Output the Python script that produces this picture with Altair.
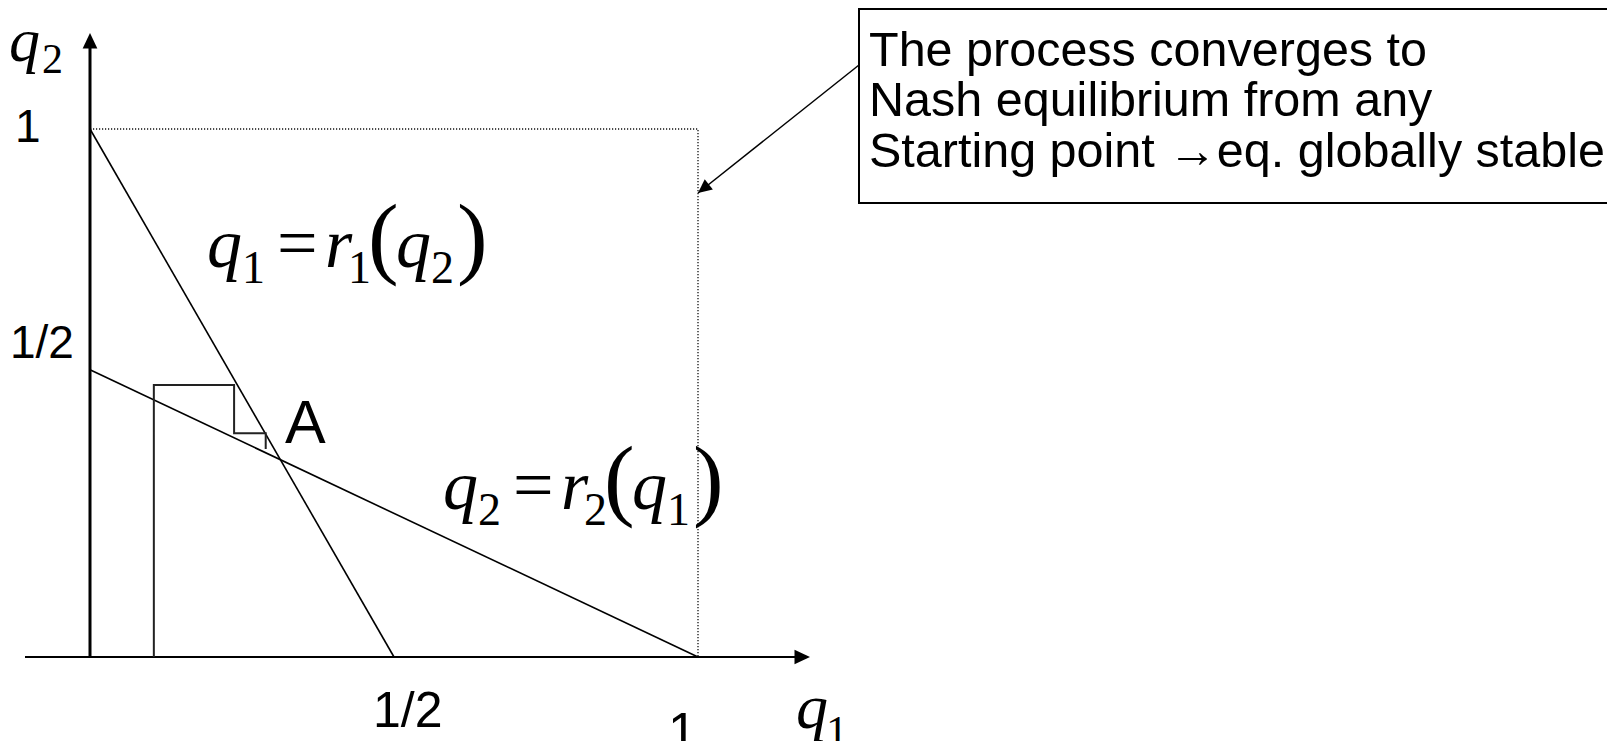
import altair as alt
import pandas as pd

# ---------------- data (economic units) ----------------
r1_q1 = [0.0, 0.5]            # q1 = r1(q2)
r1_q2 = [1.0, 0.0]
r2_q1 = [0.0, 1.0]            # q2 = r2(q1)
r2_q2 = [0.544, 0.0]
box_q1 = [0.0, 1.0, 1.0]      # dotted unit box
box_q2 = [1.0, 1.0, 0.0]
step_q1 = [0.105, 0.105, 0.237, 0.237, 0.289, 0.289]   # adjustment path
step_q2 = [0.0, 0.515, 0.515, 0.424, 0.424, 0.394]

box_lines = ["The process converges to",
             "Nash equilibrium from any",
             "Starting point \u2192eq. globally stable"]
tick_labels = ["1", "1/2", "1/2", "1"]

# ---------------- page calibration ----------------
W, H = 1599, 733
PX_X0, PX_X1 = 90, 698
PX_Y0, PX_Y1 = 657, 129


def qx(px):
    return (px - PX_X0) / (PX_X1 - PX_X0)


def qy(py):
    return (PX_Y0 - py) / (PX_Y0 - PX_Y1)


XD = [qx(8), qx(8 + W)]
YD = [qy(8 + H), qy(8)]
XS = alt.Scale(domain=XD, nice=False, zero=False)
YS = alt.Scale(domain=YD, nice=False, zero=False)


def X(f="x"):
    return alt.X(f"{f}:Q", scale=XS, axis=None)


def Y(f="y"):
    return alt.Y(f"{f}:Q", scale=YS, axis=None)


def rules(segs, **kw):
    df = pd.DataFrame(segs, columns=["x", "y", "x2", "y2"])
    return alt.Chart(df).mark_rule(**kw).encode(
        x=X(), y=Y(), x2="x2:Q", y2="y2:Q")


def path(xs, ys, **kw):
    df = pd.DataFrame({"x": xs, "y": ys, "o": range(len(xs))})
    return alt.Chart(df).mark_line(**kw).encode(x=X(), y=Y(), order="o:O")


layers = []

# text box
box_df = pd.DataFrame({"x": [qx(859)], "x2": [qx(1660)], "y": [qy(9)], "y2": [qy(203)]})
layers.append(alt.Chart(box_df).mark_rect(fill="white", stroke="black", strokeWidth=2).encode(
    x=X(), x2="x2:Q", y=Y(), y2="y2:Q"))

# dotted box
layers.append(path(box_q1, box_q2, color="#111", strokeWidth=1.3, strokeDash=[1.2, 1.8]))

# axes
layers.append(rules([[qx(25), 0.0, qx(800), 0.0]], color="black", strokeWidth=2.2))
layers.append(rules([[0.0, 0.0, 0.0, qy(45)]], color="black", strokeWidth=3))

# reaction functions
layers.append(path(r1_q1, r1_q2, color="black", strokeWidth=1.6))
layers.append(path(r2_q1, r2_q2, color="black", strokeWidth=1.6))

# adjustment steps
layers.append(path(step_q1, step_q2, color="#222", strokeWidth=2))

# annotation arrow line
layers.append(rules([[qx(859), qy(65), 1.0, qy(193)]], color="black", strokeWidth=1.5))

# arrowheads (tip at origin of custom shape)
heads = pd.DataFrame({
    "x": [0.0, qx(810), 1.0],
    "y": [qy(33), 0.0, qy(193)],
    "a": [0, 90, 231.5],
    "s": [240, 240, 190],
})
layers.append(alt.Chart(heads).mark_point(
    shape="M0,0 L-0.95,2 L0.95,2 Z", filled=True, color="black", opacity=1, strokeWidth=0
).encode(x=X(), y=Y(), angle=alt.Angle("a:Q", scale=None), size=alt.Size("s:Q", scale=None)))

# Arial-like labels
lab = pd.DataFrame({
    "t": tick_labels + ["A"],
    "x": [qx(15), qx(10), qx(373), qx(668), qx(285)],
    "y": [qy(142), qy(358), qy(727), qy(749), qy(443)],
    "s": [46, 46, 50, 52, 61],
})
layers.append(alt.Chart(lab).mark_text(
    font="Liberation Sans", align="left", baseline="alphabetic", color="black"
).encode(x=X(), y=Y(), text="t:N", size=alt.Size("s:Q", scale=None)))

# box text
bt = pd.DataFrame({"t": box_lines, "x": [qx(869)] * 3, "y": [qy(66), qy(116), qy(167)]})
layers.append(alt.Chart(bt).mark_text(
    font="Liberation Sans", fontSize=48.5, align="left", baseline="alphabetic", color="black"
).encode(x=X(), y=Y(), text="t:N"))

# math text pieces: (text, italic?, size, dx, dy)
eq_pieces = [
    ("q", True, 70, 0, 0), ("{a}", False, 46, 35, 16), ("=", False, 72, 70, 0),
    ("r", True, 70, 118, 0), ("{a}", False, 46, 141, 16), ("(", False, 92, 161, 0),
    ("q", True, 70, 189, 0), ("{b}", False, 46, 224, 16), (")", False, 92, 250, 0),
]
math_rows = []
for ox, oy, a, b in [(207, 267, "1", "2"), (443, 509, "2", "1")]:
    for t, it, s, dx, dy in eq_pieces:
        math_rows.append({"t": t.format(a=a, b=b), "it": it, "s": s,
                          "x": qx(ox + dx), "y": qy(oy + dy)})
# axis titles q2 and q1
math_rows += [
    {"t": "q", "it": True, "s": 62, "x": qx(9), "y": qy(61)},
    {"t": "2", "it": False, "s": 42, "x": qx(42), "y": qy(73)},
    {"t": "q", "it": True, "s": 64, "x": qx(796), "y": qy(728)},
    {"t": "1", "it": False, "s": 44, "x": qx(826), "y": qy(746)},
]
mdf = pd.DataFrame(math_rows)
for italic in (True, False):
    sub = mdf[mdf["it"] == italic]
    layers.append(alt.Chart(sub).mark_text(
        font="Liberation Serif", fontStyle="italic" if italic else "normal",
        align="left", baseline="alphabetic", color="black"
    ).encode(x=X(), y=Y(), text="t:N", size=alt.Size("s:Q", scale=None)))

chart = alt.layer(*layers).properties(
    width=W, height=H, autosize="none", padding=0, background="white"
).configure_view(stroke=None)

chart.save("out.html", embed_options={"renderer": "svg", "actions": False})
